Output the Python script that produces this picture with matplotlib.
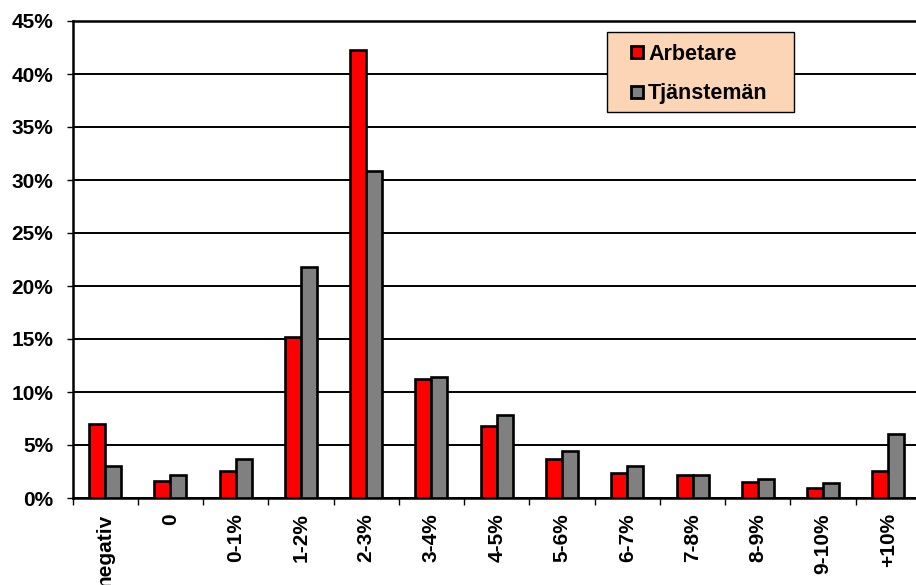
import numpy as np
import matplotlib.pyplot as plt
from matplotlib.patches import Rectangle
from matplotlib.lines import Line2D
from matplotlib.ticker import FuncFormatter

plt.rcParams['font.family'] = ['Liberation Sans', 'DejaVu Sans']
plt.rcParams['font.weight'] = 'bold'

categories = ['negativ', '0', '0-1%', '1-2%', '2-3%', '3-4%', '4-5%',
              '5-6%', '6-7%', '7-8%', '8-9%', '9-10%', '+10%']
arbetare = [7.0, 1.6, 2.55, 15.15, 42.3, 11.2, 6.8, 3.65, 2.35, 2.15, 1.55, 0.97, 2.55]
tjansteman = [3.05, 2.15, 3.7, 21.8, 30.85, 11.45, 7.85, 4.45, 3.0, 2.2, 1.82, 1.44, 6.05]

W, H = 916, 585
fig = plt.figure(figsize=(W/100, H/100), dpi=100)
# plot area runs slightly past the right edge of the picture, as in the original
ax = fig.add_axes([72.5/W, 87/H, (921-72.5)/W, 477/H])

x = np.arange(len(categories))
bw = 0.245
ax.bar(x - bw/2, arbetare, bw, color='#ff0000', edgecolor='black', linewidth=1.9, zorder=3)
ax.bar(x + bw/2, tjansteman, bw, color='#808080', edgecolor='black', linewidth=1.9, zorder=3)

ax.set_xlim(-0.5, len(categories) - 0.5)
ax.set_ylim(0, 45)
ax.set_yticks(np.arange(0, 46, 5))
ax.yaxis.set_major_formatter(FuncFormatter(lambda v, p: f'{v:.0f}%'))
ax.grid(axis='y', color='black', linewidth=1.4, zorder=0)
ax.set_axisbelow(True)

# category labels centred, ticks on the boundaries
ax.set_xticks(np.arange(-0.5, len(categories), 1.0))
ax.set_xticklabels([])
ax.set_xticks(x, minor=True)
ax.set_xticklabels(categories, minor=True, rotation=90, fontsize=15,
                   fontweight='bold', va='top', ha='center')
ax.tick_params(axis='x', which='minor', length=0, pad=11)
ax.tick_params(axis='x', which='major', length=5, width=1, direction='out')
ax.tick_params(axis='y', length=4, width=1, pad=10, labelsize=15)
for lbl in ax.get_yticklabels():
    lbl.set_fontweight('bold')

for s in ['left', 'bottom', 'top', 'right']:
    ax.spines[s].set_linewidth(1.8)

# legend box
fig.add_artist(Rectangle((607/W, 1 - 112/H), 187/W, 80/H, transform=fig.transFigure,
                         facecolor='#fbd5b5', edgecolor='black', linewidth=1, zorder=2))
handles = [Line2D([], [], marker='s', linestyle='none', markersize=8,
                  markerfacecolor=c, markeredgecolor='black', markeredgewidth=2)
           for c in ['#ff0000', '#808080']]
fig.legend(handles, ['Arbetare', 'Tjänstemän'], loc='center left',
           bbox_to_anchor=(631/W, 1 - 74/H), frameon=False,
           prop={'size': 15.5, 'weight': 'bold'}, handlelength=0.6,
           handletextpad=0.2, labelspacing=0.85, borderpad=0, borderaxespad=0)

fig.savefig('out.png', dpi=100)
